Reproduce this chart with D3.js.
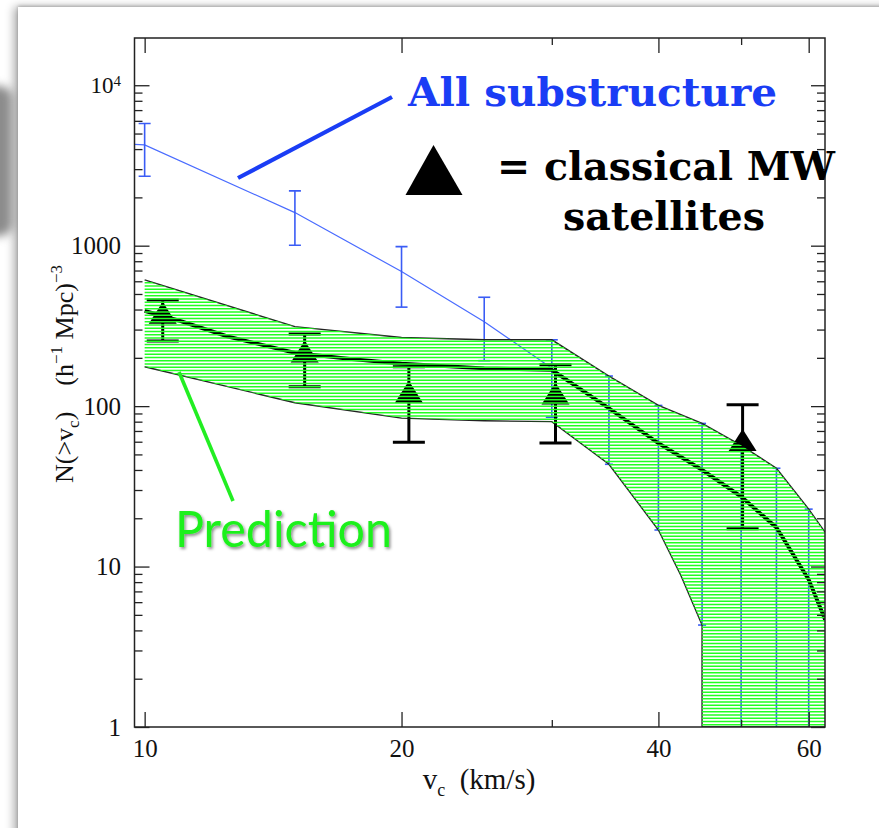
<!DOCTYPE html>
<html>
<head>
<meta charset="utf-8">
<script src="https://cdn.jsdelivr.net/npm/d3@7"></script>
<style>
  html, body { margin: 0; padding: 0; background: #fff; width: 879px; height: 828px; overflow: hidden; }
  #page { position: absolute; left: 0; top: 0; width: 879px; height: 828px; background: #fff; overflow: hidden; }
  #tab { position: absolute; left: -34px; top: 86px; width: 46px; height: 150px; background: #8c8c8c; border-radius: 12px; filter: blur(5px); }
  #sheet { position: absolute; left: 18px; top: 7px; width: 920px; height: 880px; background: #fff;
           box-shadow: -4px 0 9px rgba(0,0,0,0.33), 0 -1px 3px rgba(0,0,0,0.22); }
  svg { position: absolute; left: 0; top: 0; }
</style>
</head>
<body>
<div id="page">
  <div id="tab"></div>
  <div id="sheet"></div>
  <svg id="chart" width="879" height="828"></svg>
</div>
<script>
// ---- cumulative velocity function data ----
// all substructure (simulation), with error range
const allV  = [9.73, 10, 15, 20, 25, 30, 35, 40, 45, 50, 55, 60];
const allN  = [4280, 4250, 1608, 690, 336, 172, 97, 58.7, 40, 27.3, 17.6, 8.3];
const allHi = [null, 5770, 2197, 987, 477, 259, 154, 101, 78, 57, 41, 22.8];
const allLo = [null, 2710, 1007, 414, 192, 85.3, 43.4, 16.9, 4.32, 0, 0, 0];

// predicted luminous satellites: upper / lower envelope and median
const upperV = [10, 15, 20, 25, 30, 35, 40, 45, 50, 55, 60, 62.8];
const upperN = [612, 313, 268, 259, 259, 154, 101, 78, 57, 41, 22.8, 16.2];
const lowerV = [10, 15, 20, 25, 30, 35, 40, 42.5, 45, 45, 62.8];
const lowerN = [176, 105, 84.2, 81, 80, 43.4, 16.9, 8.8, 4.32, 0, 0];
const medV   = [10, 11, 12.5, 15, 17.5, 20, 25, 30, 35, 40, 45, 50, 55, 60, 62.8];
const medN   = [392, 340, 272, 215, 196, 184, 172, 168, 97, 58.7, 40, 27.3, 17.5, 8.3, 4.6];

// classical Milky Way satellites
const satV  = [10.5, 15.4, 20.4, 30.3, 50.2];
const satN  = [382, 219, 123, 120, 61.5];
const satHi = [459, 282, 176, 181, 102];
const satLo = [255, 132, 59.6, 59, 17.2];

// axis ticks
const xMajor = [10, 20, 40, 60];
const xMinor = [30, 50];
const yMajor = [1, 10, 100, 1000, 10000];
const yMinor = [];
[1, 10, 100, 1000, 10000].forEach(d => { for (let k = 2; k <= 9; k++) if (d * k < 19700) yMinor.push(d * k); });

// ---- layout ----
const L = 134.5, R = 825, T = 38, B = 727;
const x = d3.scaleLog().domain([9.73, 62.7]).range([L, R]);
const y = d3.scaleLog().domain([1, 19700]).range([B, T]);
const yMin = y.domain()[0];
const Y = v => y(Math.max(v, yMin));

const svg = d3.select("#chart");
const defs = svg.append("defs");
defs.append("clipPath").attr("id", "plotClip")
  .append("rect").attr("x", L).attr("y", T).attr("width", R - L).attr("height", B - T);

const shadow = defs.append("filter").attr("id", "txtShadow")
  .attr("x", "-10%").attr("y", "-20%").attr("width", "130%").attr("height", "160%");
shadow.append("feDropShadow").attr("dx", 1.5).attr("dy", 2).attr("stdDeviation", 1.6)
  .attr("flood-color", "#000").attr("flood-opacity", 0.45);

const plot = svg.append("g").attr("clip-path", "url(#plotClip)");
const line = d3.line().x(d => x(d[0])).y(d => Y(d[1]));

// ---- all substructure: thin blue line with error bars ----
plot.append("path")
  .attr("d", line(allV.map((v, i) => [v, allN[i]])))
  .attr("fill", "none").attr("stroke", "#4a6cff").attr("stroke-width", 1.2);

const blueBars = plot.append("g").attr("stroke", "#3a5cf5").attr("stroke-width", 1.6).attr("fill", "none");
allV.forEach((v, i) => {
  if (allHi[i] == null) return;
  const cx = x(v), yh = Y(allHi[i]), yl = Y(allLo[i]);
  const cap = v <= 30 ? 6 : 4;
  blueBars.append("line").attr("x1", cx).attr("x2", cx).attr("y1", yh).attr("y2", yl);
  blueBars.append("line").attr("x1", cx - cap).attr("x2", cx + cap).attr("y1", yh).attr("y2", yh);
  if (allLo[i] >= yMin) blueBars.append("line").attr("x1", cx - cap).attr("x2", cx + cap).attr("y1", yl).attr("y2", yl);
});

// ---- prediction envelope edges and median ----
const upPts = upperV.map((v, i) => [v, upperN[i]]);
const loPts = lowerV.map((v, i) => [v, lowerN[i]]);
plot.append("path").attr("d", line(upPts)).attr("fill", "none").attr("stroke", "#222").attr("stroke-width", 1.4);
plot.append("path").attr("d", line(loPts)).attr("fill", "none").attr("stroke", "#222").attr("stroke-width", 1.4);
plot.append("path")
  .attr("d", line(medV.map((v, i) => [v, medN[i]])))
  .attr("fill", "none").attr("stroke", "#000").attr("stroke-width", 3.8);

// ---- classical satellites: triangles with error bars ----
const sat = plot.append("g");
satV.forEach((v, i) => {
  const cx = x(v), cy = Y(satN[i]), yh = Y(satHi[i]), yl = Y(satLo[i]);
  sat.append("line").attr("x1", cx).attr("x2", cx).attr("y1", yh).attr("y2", yl)
    .attr("stroke", "#000").attr("stroke-width", 3);
  [yh, yl].forEach(yy => sat.append("line").attr("x1", cx - 16).attr("x2", cx + 16)
    .attr("y1", yy).attr("y2", yy).attr("stroke", "#000").attr("stroke-width", 3));
  sat.append("path")
    .attr("d", `M${cx},${cy - 11} L${cx + 14},${cy + 11} L${cx - 14},${cy + 11} Z`)
    .attr("fill", "#000");
});

// ---- green horizontal hatching over the envelope ----
const bandPath = d3.line()([...upPts, ...loPts.slice().reverse()].map(d => [x(d[0]), Y(d[1])])) + "Z";
defs.append("clipPath").attr("id", "bandClip").append("path").attr("d", bandPath);
const hatch = plot.append("g").attr("clip-path", "url(#bandClip)")
  .attr("stroke", "#22ff22").attr("stroke-width", 1.55);
d3.range(T + 1, B + 2, 3.25).forEach(yy => {
  hatch.append("line").attr("x1", L).attr("x2", R).attr("y1", yy).attr("y2", yy);
});

// ---- axes ----
const serif = "'Liberation Serif', 'Times New Roman', serif";
const tickFont = g => g
  .call(s => s.selectAll("text").attr("fill", "#111").attr("font-family", serif).attr("font-size", 25))
  .call(s => s.selectAll(".tick line").attr("stroke", "#222").attr("stroke-width", 1.3))
  .call(s => s.select(".domain").remove());

svg.append("g").attr("transform", `translate(0,${B})`)
  .call(d3.axisBottom(x).tickValues(xMajor).tickSize(-15).tickSizeOuter(0).tickPadding(12).tickFormat(d3.format("d")))
  .call(tickFont);
svg.append("g").attr("transform", `translate(0,${B})`)
  .call(d3.axisBottom(x).tickValues(xMinor).tickSize(-7).tickSizeOuter(0).tickFormat(""))
  .call(tickFont);
svg.append("g").attr("transform", `translate(0,${T})`)
  .call(d3.axisTop(x).tickValues(xMajor).tickSize(-15).tickSizeOuter(0).tickFormat(""))
  .call(tickFont);
svg.append("g").attr("transform", `translate(0,${T})`)
  .call(d3.axisTop(x).tickValues(xMinor).tickSize(-7).tickSizeOuter(0).tickFormat(""))
  .call(tickFont);

const gyL = svg.append("g").attr("transform", `translate(${L},0)`)
  .call(d3.axisLeft(y).tickValues(yMajor).tickSize(-15).tickSizeOuter(0).tickPadding(13.5).tickFormat(d3.format("d")))
  .call(tickFont);
gyL.selectAll(".tick text").filter(d => d === 10000)
  .attr("font-size", 23).text("10").append("tspan").attr("dy", "-0.5em").attr("font-size", 15).text("4");
svg.append("g").attr("transform", `translate(${L},0)`)
  .call(d3.axisLeft(y).tickValues(yMinor).tickSize(-8).tickSizeOuter(0).tickFormat(""))
  .call(tickFont);
svg.append("g").attr("transform", `translate(${R},0)`)
  .call(d3.axisRight(y).tickValues(yMajor).tickSize(-14).tickSizeOuter(0).tickFormat(""))
  .call(tickFont);
svg.append("g").attr("transform", `translate(${R},0)`)
  .call(d3.axisRight(y).tickValues(yMinor).tickSize(-8).tickSizeOuter(0).tickFormat(""))
  .call(tickFont);

// frame
svg.append("rect").attr("x", L).attr("y", T).attr("width", R - L).attr("height", B - T)
  .attr("fill", "none").attr("stroke", "#222").attr("stroke-width", 1.5);

// axis titles
const xt = svg.append("text").attr("x", 479).attr("y", 789).attr("text-anchor", "middle")
  .attr("font-family", serif).attr("font-size", 29).attr("fill", "#111");
xt.append("tspan").text("v");
xt.append("tspan").attr("font-size", 18).attr("dy", 7).text("c");
xt.append("tspan").attr("dy", -7).text("\u2002(km/s)");

const yt = svg.append("text").attr("transform", "translate(73,374) rotate(-90)").attr("text-anchor", "middle")
  .attr("font-family", serif).attr("font-size", 26).attr("fill", "#111");
yt.append("tspan").text("N(>v");
yt.append("tspan").attr("font-size", 17).attr("dy", 6).text("c");
yt.append("tspan").attr("dy", -6).text(")\u2003(h");
yt.append("tspan").attr("font-size", 17).attr("dy", -11).text("\u22121");
yt.append("tspan").attr("dy", 11).text(" Mpc)");
yt.append("tspan").attr("font-size", 17).attr("dy", -11).text("\u22123");

// ---- annotations ----
const boldSerif = "'DejaVu Serif', Georgia, serif";
svg.append("line").attr("x1", 238).attr("y1", 178).attr("x2", 392).attr("y2", 97)
  .attr("stroke", "#1a3df5").attr("stroke-width", 4.2);
svg.append("text").attr("x", 408).attr("y", 106).attr("font-family", boldSerif).attr("font-weight", "bold")
  .attr("font-size", 40).attr("fill", "#1a3df5")
  .attr("textLength", 369).attr("lengthAdjust", "spacingAndGlyphs").text("All substructure");

svg.append("path").attr("d", "M433.5,145 L462.5,195 L405.5,195 Z").attr("fill", "#000");
svg.append("text").attr("x", 497).attr("y", 180).attr("font-family", boldSerif).attr("font-weight", "bold")
  .attr("font-size", 40).attr("fill", "#000")
  .attr("textLength", 338).attr("lengthAdjust", "spacingAndGlyphs").text("= classical MW");
svg.append("text").attr("x", 563).attr("y", 230).attr("font-family", boldSerif).attr("font-weight", "bold")
  .attr("font-size", 40).attr("fill", "#000")
  .attr("textLength", 202).attr("lengthAdjust", "spacingAndGlyphs").text("satellites");

svg.append("line").attr("x1", 179).attr("y1", 372).attr("x2", 233).attr("y2", 501)
  .attr("stroke", "#22ee22").attr("stroke-width", 3.6);
svg.append("text").attr("x", 175).attr("y", 547).attr("font-family", "Lato, 'Open Sans', sans-serif")
  .attr("font-size", 50).attr("fill", "#1ef01e").attr("filter", "url(#txtShadow)")
  .attr("textLength", 217).attr("lengthAdjust", "spacingAndGlyphs").text("Prediction");
</script>
</body>
</html>
